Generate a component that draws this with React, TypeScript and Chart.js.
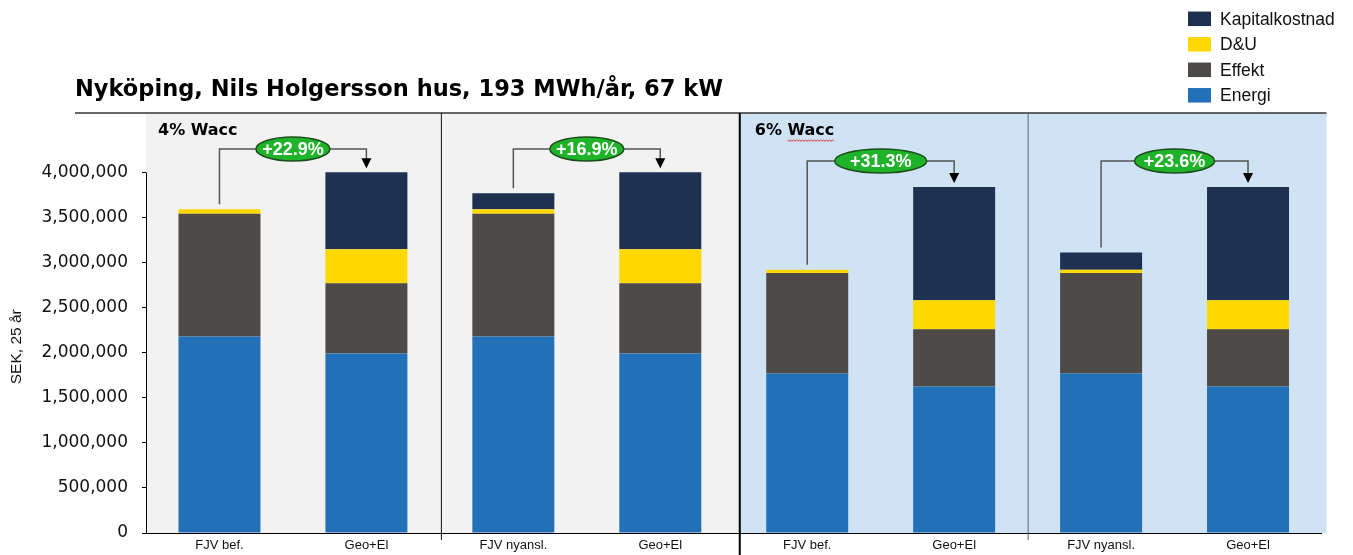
import React, { useEffect, useRef } from 'react';
import { Chart, registerables } from 'chart.js';

Chart.register(...registerables);

// ---- data ----
const categories = ['FJV bef.', 'Geo+El', 'FJV nyansl.', 'Geo+El', 'FJV bef.', 'Geo+El', 'FJV nyansl.', 'Geo+El'];
const energi = [2180000, 1991000, 2180000, 1991000, 1769000, 1625000, 1769000, 1625000];
const effekt = [1363000, 781000, 1363000, 781000, 1117000, 637000, 1117000, 637000];
const du = [49000, 377000, 49000, 377000, 36000, 321000, 36000, 321000];
const kapital = [0, 853000, 177000, 853000, 0, 1256000, 189000, 1256000];

const yTicks = [0, 500000, 1000000, 1500000, 2000000, 2500000, 3000000, 3500000, 4000000];
const yMax = 4660000;

const chartTitle = 'Nyköping, Nils Holgersson hus, 193 MWh/år, 67 kW';
const yTitle = 'SEK, 25 år';
const panelLabels = ['4% Wacc', '6% Wacc'];

const changeLabels = ['+22.9%', '+16.9%', '+31.3%', '+23.6%'];
const changeFrom = [0, 2, 4, 6];
const changeTo = [1, 3, 5, 7];
const changeLevel = [4260000, 4260000, 4128000, 4128000];

// ---- styles ----
const COLORS = {
  energi: '#2270b7',
  effekt: '#4e4a47',
  du: '#ffd800',
  kapital: '#1f3150',
  grayPanel: '#f2f2f2',
  bluePanel: '#cfe3f5',
  green: '#1fb32a',
  greenEdge: '#1b4d1b',
};
const ellipseRx = [37, 37, 46, 40];
const SANS = '"Liberation Sans", Arial, sans-serif';
const WIDE = '"DejaVu Sans", sans-serif';

function totalAt(chart: any, i: number) {
  return chart.data.datasets.reduce((s: number, d: any) => s + (d.data[i] as number), 0);
}

const decorPlugin = {
  id: 'decor',
  beforeDraw(chart: any) {
    const { ctx, chartArea: ca, scales } = chart;
    const x = scales.x;
    const b2 = (x.getPixelForValue(3) + x.getPixelForValue(4)) / 2 + 6;
    ctx.save();
    ctx.fillStyle = COLORS.grayPanel;
    ctx.fillRect(ca.left, ca.top, b2 - ca.left, ca.bottom - ca.top);
    ctx.fillStyle = COLORS.bluePanel;
    ctx.fillRect(b2, ca.top, ca.right + 5 - b2, ca.bottom - ca.top);
    ctx.restore();
  },
  beforeDatasetsDraw(chart: any) {
    const { ctx, chartArea: ca, scales } = chart;
    const x = scales.x;
    const y = scales.y;
    const b1 = (x.getPixelForValue(1) + x.getPixelForValue(2)) / 2 + 1;
    const b2 = (x.getPixelForValue(3) + x.getPixelForValue(4)) / 2 + 6;
    const b3 = (x.getPixelForValue(5) + x.getPixelForValue(6)) / 2;
    ctx.save();
    // title
    ctx.fillStyle = '#000';
    ctx.font = `bold 22.5px ${WIDE}`;
    ctx.textAlign = 'left';
    ctx.textBaseline = 'alphabetic';
    ctx.fillText(chartTitle, 75, 96);
    // title underline
    ctx.strokeStyle = '#333';
    ctx.lineWidth = 1.5;
    ctx.beginPath();
    ctx.moveTo(75, ca.top);
    ctx.lineTo(ca.right + 5, ca.top);
    ctx.stroke();
    // y axis line (0 .. top tick)
    ctx.strokeStyle = '#000';
    ctx.lineWidth = 1;
    ctx.beginPath();
    ctx.moveTo(ca.left + 0.5, y.getPixelForValue(yTicks[yTicks.length - 1]));
    ctx.lineTo(ca.left + 0.5, y.getPixelForValue(0));
    ctx.stroke();
    // separators
    ctx.strokeStyle = '#111';
    ctx.lineWidth = 1;
    ctx.beginPath();
    ctx.moveTo(b1 + 0.5, ca.top);
    ctx.lineTo(b1 + 0.5, ca.bottom + 7);
    ctx.stroke();
    ctx.strokeStyle = '#5c6670';
    ctx.beginPath();
    ctx.moveTo(b3 + 0.5, ca.top);
    ctx.lineTo(b3 + 0.5, ca.bottom + 7);
    ctx.stroke();
    ctx.strokeStyle = '#000';
    ctx.lineWidth = 2;
    ctx.beginPath();
    ctx.moveTo(b2, ca.top);
    ctx.lineTo(b2, chart.height);
    ctx.stroke();
    // y title
    ctx.save();
    ctx.translate(17, (y.getPixelForValue(0) + y.getPixelForValue(yTicks[yTicks.length - 1])) / 2 - 6);
    ctx.rotate(-Math.PI / 2);
    ctx.font = `15.5px ${SANS}`;
    ctx.textAlign = 'center';
    ctx.textBaseline = 'middle';
    ctx.fillStyle = '#111';
    ctx.fillText(yTitle, 0, 0);
    ctx.restore();
    // panel labels
    ctx.font = `bold 16px ${WIDE}`;
    ctx.fillStyle = '#000';
    ctx.textAlign = 'left';
    ctx.textBaseline = 'middle';
    const ly = ca.top + 18;
    ctx.fillText(panelLabels[0], ca.left + 12, ly);
    const p2x = b2 + 15;
    ctx.fillText(panelLabels[1], p2x, ly);
    // red squiggle under "Wacc"
    const parts = panelLabels[1].split(' ');
    const sx = p2x + ctx.measureText(parts[0] + ' ').width;
    const sw = ctx.measureText(parts[1]).width;
    ctx.strokeStyle = '#e03030';
    ctx.lineWidth = 1;
    ctx.beginPath();
    for (let k = 0; k <= sw; k += 1.5) {
      const yy = ly + 9 + (Math.round(k / 1.5) % 2 === 0 ? 0 : 1.3);
      if (k === 0) ctx.moveTo(sx + k, yy);
      else ctx.lineTo(sx + k, yy);
    }
    ctx.stroke();
    ctx.restore();
  },
  afterDatasetsDraw(chart: any) {
    const { ctx, scales } = chart;
    const x = scales.x;
    const y = scales.y;
    ctx.save();
    changeLabels.forEach((label, k) => {
      const xi = x.getPixelForValue(changeFrom[k]);
      const xj = x.getPixelForValue(changeTo[k]);
      const yl = y.getPixelForValue(changeLevel[k]);
      const topI = y.getPixelForValue(totalAt(chart, changeFrom[k]));
      const topJ = y.getPixelForValue(totalAt(chart, changeTo[k]));
      const tip = topJ - 4;
      ctx.strokeStyle = '#555';
      ctx.lineWidth = 1.5;
      ctx.beginPath();
      ctx.moveTo(xi, topI - 5);
      ctx.lineTo(xi, yl);
      ctx.lineTo(xj, yl);
      ctx.lineTo(xj, tip - 9);
      ctx.stroke();
      ctx.fillStyle = '#000';
      ctx.beginPath();
      ctx.moveTo(xj - 5, tip - 10);
      ctx.lineTo(xj + 5, tip - 10);
      ctx.lineTo(xj, tip);
      ctx.closePath();
      ctx.fill();
      const cx = (xi + xj) / 2;
      ctx.beginPath();
      ctx.ellipse(cx, yl, ellipseRx[k], 12, 0, 0, Math.PI * 2);
      ctx.fillStyle = COLORS.green;
      ctx.fill();
      ctx.strokeStyle = COLORS.greenEdge;
      ctx.lineWidth = 1.5;
      ctx.stroke();
      ctx.fillStyle = '#fff';
      ctx.font = `bold 18px ${SANS}`;
      ctx.textAlign = 'center';
      ctx.textBaseline = 'middle';
      ctx.fillText(label, cx, yl + 1);
    });
    // legend (top right), reversed order
    const ds = [...chart.data.datasets].reverse();
    ds.forEach((d: any, k: number) => {
      const cy = 18.8 + k * 25.5;
      ctx.fillStyle = d.backgroundColor;
      ctx.fillRect(1188, cy - 7.25, 23, 14.5);
      ctx.fillStyle = '#111';
      ctx.font = `17.5px ${SANS}`;
      ctx.textAlign = 'left';
      ctx.textBaseline = 'middle';
      ctx.fillText(d.label, 1220, cy + 1);
    });
    ctx.restore();
  },
};

export default function App() {
  const ref = useRef<HTMLCanvasElement | null>(null);
  useEffect(() => {
    if (!ref.current) return;
    const chart = new Chart(ref.current, {
      type: 'bar',
      data: {
        labels: categories,
        datasets: [
          { label: 'Energi', data: energi, backgroundColor: COLORS.energi },
          { label: 'Effekt', data: effekt, backgroundColor: COLORS.effekt },
          { label: 'D&U', data: du, backgroundColor: COLORS.du },
          { label: 'Kapitalkostnad', data: kapital, backgroundColor: COLORS.kapital },
        ],
      },
      options: {
        animation: false,
        responsive: false,
        devicePixelRatio: 1,
        layout: { padding: { top: 113, right: 31.5, left: 0, bottom: 0 } },
        datasets: { bar: { categoryPercentage: 1, barPercentage: 0.558, borderWidth: 0 } },
        plugins: { legend: { display: false }, tooltip: { enabled: false }, title: { display: false } },
        scales: {
          x: {
            stacked: true,
            grid: { display: true, drawOnChartArea: false, drawTicks: false },
            border: { display: true, color: '#000', width: 1 },
            ticks: { color: '#111', font: { family: SANS, size: 13 }, padding: 5, maxRotation: 0, autoSkip: false },
            afterFit: (s: any) => { s.height = 22; s.paddingLeft = 0; s.paddingRight = 0; },
          },
          y: {
            stacked: true,
            min: 0,
            max: yMax,
            afterBuildTicks: (s: any) => { s.ticks = yTicks.map((v) => ({ value: v })); },
            grid: { display: true, drawOnChartArea: false, drawTicks: true, tickLength: 4, color: '#000' },
            border: { display: false },
            ticks: {
              color: '#111',
              font: { family: WIDE, size: 17 },
              padding: 14,
              callback: (v: any) => Number(v).toLocaleString('en-US'),
            },
            afterFit: (s: any) => { s.width = 146; s.paddingTop = 0; s.paddingBottom = 0; },
          },
        },
      },
      plugins: [decorPlugin],
    });
    return () => chart.destroy();
  }, []);
  return (
    <div style={{ position: 'absolute', left: 0, top: 0, width: 1353, height: 555, background: '#fff' }}>
      <canvas ref={ref} width={1353} height={555} style={{ display: 'block' }} />
    </div>
  );
}
